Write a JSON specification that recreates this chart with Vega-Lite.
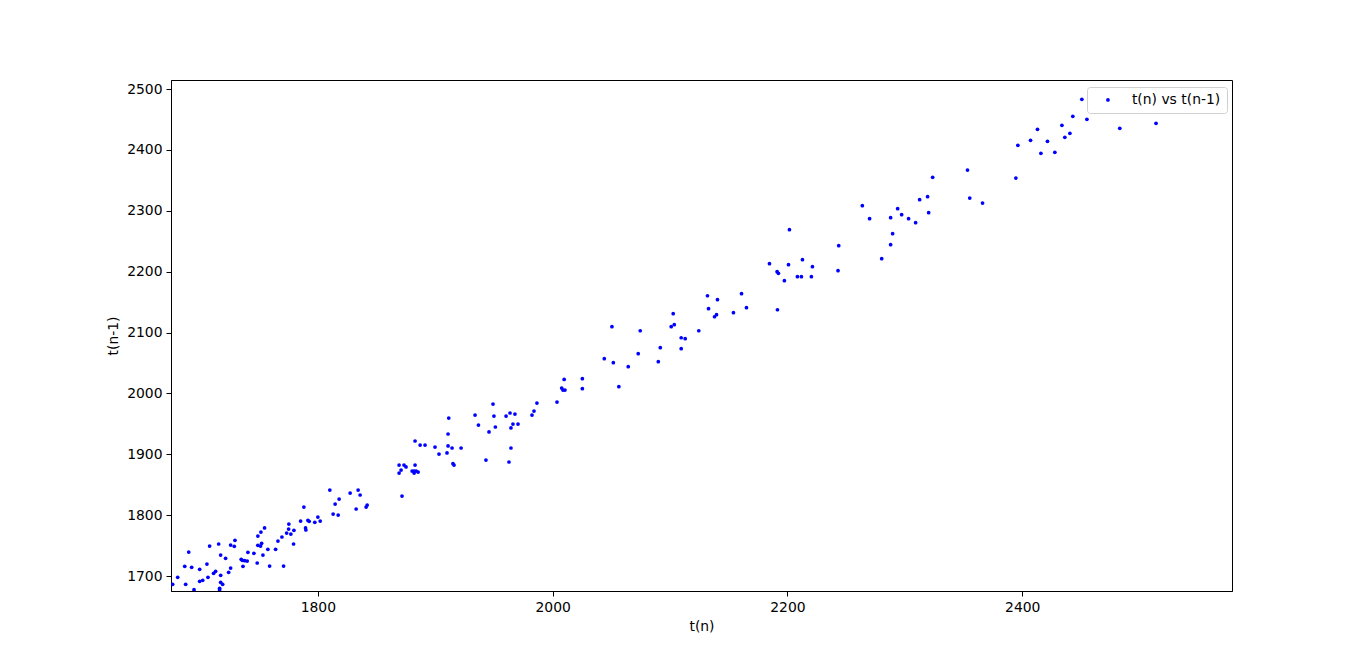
{
  "$schema": "https://vega.github.io/schema/vega-lite/v6.json",
  "width": 1061,
  "height": 511,
  "autosize": {"type": "none"},
  "padding": {"left": 171, "top": 80, "right": 137, "bottom": 73},
  "background": "white",
  "config": {
    "font": "DejaVu Sans",
    "view": {"stroke": "black", "strokeWidth": 1},
    "axis": {
      "grid": false,
      "domainColor": "black",
      "tickColor": "black",
      "labelColor": "black",
      "titleColor": "black",
      "labelFontSize": 13.9,
      "titleFontSize": 13.9,
      "titleFontWeight": "normal",
      "tickSize": 5,
      "labelPadding": 4
    },
    "legend": {
      "labelFontSize": 13.9,
      "labelColor": "black"
    }
  },
  "data": {
    "values": [
      {"t_n": 1788.1, "t_n_minus_1": 1813.3},
      {"t_n": 1785.3, "t_n_minus_1": 1790.3},
      {"t_n": 1791.5, "t_n_minus_1": 1791.5},
      {"t_n": 1792.6, "t_n_minus_1": 1789.9},
      {"t_n": 1797.4, "t_n_minus_1": 1788.2},
      {"t_n": 1800.0, "t_n_minus_1": 1796.9},
      {"t_n": 1802.0, "t_n_minus_1": 1790.3},
      {"t_n": 1789.5, "t_n_minus_1": 1778.9},
      {"t_n": 1789.8, "t_n_minus_1": 1775.6},
      {"t_n": 1775.3, "t_n_minus_1": 1785.4},
      {"t_n": 1775.1, "t_n_minus_1": 1777.2},
      {"t_n": 1773.4, "t_n_minus_1": 1770.6},
      {"t_n": 1777.0, "t_n_minus_1": 1769.0},
      {"t_n": 1779.6, "t_n_minus_1": 1775.1},
      {"t_n": 1779.3, "t_n_minus_1": 1752.6},
      {"t_n": 1769.4, "t_n_minus_1": 1764.1},
      {"t_n": 1766.0, "t_n_minus_1": 1757.5},
      {"t_n": 1764.0, "t_n_minus_1": 1743.9},
      {"t_n": 1770.8, "t_n_minus_1": 1716.4},
      {"t_n": 1754.6, "t_n_minus_1": 1778.9},
      {"t_n": 1751.5, "t_n_minus_1": 1772.3},
      {"t_n": 1748.9, "t_n_minus_1": 1765.7},
      {"t_n": 1748.9, "t_n_minus_1": 1750.4},
      {"t_n": 1752.1, "t_n_minus_1": 1753.7},
      {"t_n": 1751.2, "t_n_minus_1": 1749.3},
      {"t_n": 1757.4, "t_n_minus_1": 1743.9},
      {"t_n": 1753.2, "t_n_minus_1": 1734.5},
      {"t_n": 1745.5, "t_n_minus_1": 1737.3},
      {"t_n": 1748.3, "t_n_minus_1": 1721.4},
      {"t_n": 1758.9, "t_n_minus_1": 1716.4},
      {"t_n": 1740.4, "t_n_minus_1": 1738.9},
      {"t_n": 1739.8, "t_n_minus_1": 1724.6},
      {"t_n": 1737.6, "t_n_minus_1": 1725.1},
      {"t_n": 1734.7, "t_n_minus_1": 1727.4},
      {"t_n": 1735.6, "t_n_minus_1": 1725.8},
      {"t_n": 1736.2, "t_n_minus_1": 1715.9},
      {"t_n": 1729.4, "t_n_minus_1": 1758.6},
      {"t_n": 1725.7, "t_n_minus_1": 1750.9},
      {"t_n": 1728.8, "t_n_minus_1": 1748.8},
      {"t_n": 1721.4, "t_n_minus_1": 1729.1},
      {"t_n": 1717.2, "t_n_minus_1": 1734.5},
      {"t_n": 1715.5, "t_n_minus_1": 1752.6},
      {"t_n": 1707.8, "t_n_minus_1": 1749.3},
      {"t_n": 1725.7, "t_n_minus_1": 1713.1},
      {"t_n": 1724.0, "t_n_minus_1": 1706.1},
      {"t_n": 1717.2, "t_n_minus_1": 1701.1},
      {"t_n": 1712.9, "t_n_minus_1": 1707.7},
      {"t_n": 1711.2, "t_n_minus_1": 1704.4},
      {"t_n": 1705.5, "t_n_minus_1": 1719.7},
      {"t_n": 1699.3, "t_n_minus_1": 1711.0},
      {"t_n": 1706.4, "t_n_minus_1": 1697.9},
      {"t_n": 1701.9, "t_n_minus_1": 1692.9},
      {"t_n": 1699.3, "t_n_minus_1": 1691.3},
      {"t_n": 1717.2, "t_n_minus_1": 1689.7},
      {"t_n": 1718.9, "t_n_minus_1": 1686.4},
      {"t_n": 1716.3, "t_n_minus_1": 1679.8},
      {"t_n": 1716.3, "t_n_minus_1": 1677.5},
      {"t_n": 1694.5, "t_n_minus_1": 1677.5},
      {"t_n": 1690.0, "t_n_minus_1": 1739.4},
      {"t_n": 1686.6, "t_n_minus_1": 1715.9},
      {"t_n": 1692.5, "t_n_minus_1": 1714.3},
      {"t_n": 1680.6, "t_n_minus_1": 1697.9},
      {"t_n": 1687.4, "t_n_minus_1": 1686.4},
      {"t_n": 1676.3, "t_n_minus_1": 1686.4},
      {"t_n": 1936.8, "t_n_minus_1": 1948.0},
      {"t_n": 1910.9, "t_n_minus_1": 1933.3},
      {"t_n": 1882.8, "t_n_minus_1": 1921.8},
      {"t_n": 1887.1, "t_n_minus_1": 1915.2},
      {"t_n": 1891.3, "t_n_minus_1": 1915.2},
      {"t_n": 1899.8, "t_n_minus_1": 1911.9},
      {"t_n": 1910.9, "t_n_minus_1": 1913.6},
      {"t_n": 1914.3, "t_n_minus_1": 1910.3},
      {"t_n": 1922.0, "t_n_minus_1": 1910.3},
      {"t_n": 1903.2, "t_n_minus_1": 1900.4},
      {"t_n": 1910.0, "t_n_minus_1": 1902.1},
      {"t_n": 1915.1, "t_n_minus_1": 1884.5},
      {"t_n": 1916.0, "t_n_minus_1": 1882.3},
      {"t_n": 1869.2, "t_n_minus_1": 1882.3},
      {"t_n": 1873.4, "t_n_minus_1": 1882.3},
      {"t_n": 1875.1, "t_n_minus_1": 1879.1},
      {"t_n": 1882.8, "t_n_minus_1": 1882.3},
      {"t_n": 1870.9, "t_n_minus_1": 1874.1},
      {"t_n": 1869.2, "t_n_minus_1": 1869.2},
      {"t_n": 1880.3, "t_n_minus_1": 1872.5},
      {"t_n": 1882.0, "t_n_minus_1": 1872.5},
      {"t_n": 1883.7, "t_n_minus_1": 1872.5},
      {"t_n": 1882.0, "t_n_minus_1": 1869.2},
      {"t_n": 1885.4, "t_n_minus_1": 1870.8},
      {"t_n": 1871.7, "t_n_minus_1": 1831.4},
      {"t_n": 1810.2, "t_n_minus_1": 1841.3},
      {"t_n": 1827.5, "t_n_minus_1": 1836.3},
      {"t_n": 1834.3, "t_n_minus_1": 1841.3},
      {"t_n": 1836.0, "t_n_minus_1": 1833.1},
      {"t_n": 1818.1, "t_n_minus_1": 1826.5},
      {"t_n": 1814.7, "t_n_minus_1": 1818.3},
      {"t_n": 1842.0, "t_n_minus_1": 1816.6},
      {"t_n": 1841.1, "t_n_minus_1": 1813.3},
      {"t_n": 1832.6, "t_n_minus_1": 1810.1},
      {"t_n": 1813.0, "t_n_minus_1": 1801.8},
      {"t_n": 1817.3, "t_n_minus_1": 1800.2},
      {"t_n": 1911.5, "t_n_minus_1": 1959.5},
      {"t_n": 2007.7, "t_n_minus_1": 2008.8},
      {"t_n": 2008.8, "t_n_minus_1": 2005.5},
      {"t_n": 2010.5, "t_n_minus_1": 2005.5},
      {"t_n": 2009.8, "t_n_minus_1": 2023.0},
      {"t_n": 2003.7, "t_n_minus_1": 1985.8},
      {"t_n": 1986.6, "t_n_minus_1": 1984.2},
      {"t_n": 1984.1, "t_n_minus_1": 1971.0},
      {"t_n": 1982.4, "t_n_minus_1": 1964.5},
      {"t_n": 1949.2, "t_n_minus_1": 1982.5},
      {"t_n": 1933.9, "t_n_minus_1": 1964.5},
      {"t_n": 1950.0, "t_n_minus_1": 1962.8},
      {"t_n": 1960.3, "t_n_minus_1": 1962.8},
      {"t_n": 1963.7, "t_n_minus_1": 1967.8},
      {"t_n": 1967.9, "t_n_minus_1": 1966.1},
      {"t_n": 1951.2, "t_n_minus_1": 1944.8},
      {"t_n": 1945.8, "t_n_minus_1": 1936.6},
      {"t_n": 1966.2, "t_n_minus_1": 1949.7},
      {"t_n": 1970.5, "t_n_minus_1": 1949.7},
      {"t_n": 1964.5, "t_n_minus_1": 1943.2},
      {"t_n": 1964.5, "t_n_minus_1": 1910.3},
      {"t_n": 1943.2, "t_n_minus_1": 1890.5},
      {"t_n": 1962.8, "t_n_minus_1": 1887.3},
      {"t_n": 2102.7, "t_n_minus_1": 2130.9},
      {"t_n": 2101.0, "t_n_minus_1": 2109.5},
      {"t_n": 2103.6, "t_n_minus_1": 2112.8},
      {"t_n": 2050.5, "t_n_minus_1": 2109.5},
      {"t_n": 2074.6, "t_n_minus_1": 2102.9},
      {"t_n": 2109.5, "t_n_minus_1": 2091.4},
      {"t_n": 2112.9, "t_n_minus_1": 2089.8},
      {"t_n": 2124.5, "t_n_minus_1": 2102.9},
      {"t_n": 2091.7, "t_n_minus_1": 2075.0},
      {"t_n": 2109.5, "t_n_minus_1": 2073.4},
      {"t_n": 2072.9, "t_n_minus_1": 2065.2},
      {"t_n": 2044.0, "t_n_minus_1": 2057.0},
      {"t_n": 2051.7, "t_n_minus_1": 2050.4},
      {"t_n": 2064.4, "t_n_minus_1": 2043.8},
      {"t_n": 2090.0, "t_n_minus_1": 2052.0},
      {"t_n": 2025.3, "t_n_minus_1": 2024.1},
      {"t_n": 2025.3, "t_n_minus_1": 2007.7},
      {"t_n": 2056.4, "t_n_minus_1": 2011.0},
      {"t_n": 2201.7, "t_n_minus_1": 2268.9},
      {"t_n": 2243.7, "t_n_minus_1": 2242.6},
      {"t_n": 2184.7, "t_n_minus_1": 2213.0},
      {"t_n": 2200.9, "t_n_minus_1": 2211.4},
      {"t_n": 2212.8, "t_n_minus_1": 2219.6},
      {"t_n": 2221.3, "t_n_minus_1": 2208.1},
      {"t_n": 2191.2, "t_n_minus_1": 2199.9},
      {"t_n": 2192.3, "t_n_minus_1": 2197.3},
      {"t_n": 2197.4, "t_n_minus_1": 2185.1},
      {"t_n": 2208.5, "t_n_minus_1": 2191.7},
      {"t_n": 2211.9, "t_n_minus_1": 2191.7},
      {"t_n": 2220.4, "t_n_minus_1": 2191.7},
      {"t_n": 2243.1, "t_n_minus_1": 2201.5},
      {"t_n": 2131.9, "t_n_minus_1": 2160.4},
      {"t_n": 2140.4, "t_n_minus_1": 2153.9},
      {"t_n": 2160.9, "t_n_minus_1": 2163.7},
      {"t_n": 2132.8, "t_n_minus_1": 2139.1},
      {"t_n": 2165.1, "t_n_minus_1": 2140.7},
      {"t_n": 2154.0, "t_n_minus_1": 2132.5},
      {"t_n": 2137.9, "t_n_minus_1": 2125.9},
      {"t_n": 2139.6, "t_n_minus_1": 2129.2},
      {"t_n": 2191.5, "t_n_minus_1": 2137.4},
      {"t_n": 2323.7, "t_n_minus_1": 2354.9},
      {"t_n": 2312.6, "t_n_minus_1": 2318.2},
      {"t_n": 2319.4, "t_n_minus_1": 2323.1},
      {"t_n": 2320.3, "t_n_minus_1": 2296.8},
      {"t_n": 2263.8, "t_n_minus_1": 2308.3},
      {"t_n": 2270.0, "t_n_minus_1": 2287.0},
      {"t_n": 2287.9, "t_n_minus_1": 2288.6},
      {"t_n": 2293.9, "t_n_minus_1": 2303.4},
      {"t_n": 2297.3, "t_n_minus_1": 2293.5},
      {"t_n": 2303.2, "t_n_minus_1": 2287.0},
      {"t_n": 2309.2, "t_n_minus_1": 2280.4},
      {"t_n": 2289.6, "t_n_minus_1": 2262.3},
      {"t_n": 2287.9, "t_n_minus_1": 2244.2},
      {"t_n": 2280.3, "t_n_minus_1": 2221.2},
      {"t_n": 2450.8, "t_n_minus_1": 2483.1},
      {"t_n": 2443.1, "t_n_minus_1": 2455.2},
      {"t_n": 2455.1, "t_n_minus_1": 2450.2},
      {"t_n": 2433.8, "t_n_minus_1": 2440.4},
      {"t_n": 2413.0, "t_n_minus_1": 2433.8},
      {"t_n": 2440.6, "t_n_minus_1": 2427.2},
      {"t_n": 2436.3, "t_n_minus_1": 2420.7},
      {"t_n": 2407.1, "t_n_minus_1": 2415.7},
      {"t_n": 2421.5, "t_n_minus_1": 2414.1},
      {"t_n": 2396.3, "t_n_minus_1": 2407.5},
      {"t_n": 2415.9, "t_n_minus_1": 2394.4},
      {"t_n": 2427.8, "t_n_minus_1": 2396.0},
      {"t_n": 2483.1, "t_n_minus_1": 2435.5},
      {"t_n": 2514.0, "t_n_minus_1": 2443.7},
      {"t_n": 2353.4, "t_n_minus_1": 2366.8},
      {"t_n": 2394.6, "t_n_minus_1": 2353.7},
      {"t_n": 2355.3, "t_n_minus_1": 2320.9},
      {"t_n": 2366.2, "t_n_minus_1": 2312.6}
    ]
  },
  "mark": {"type": "point", "filled": true, "size": 14, "opacity": 1, "clip": true, "shape": "circle"},
  "encoding": {
    "x": {
      "field": "t_n",
      "type": "quantitative",
      "title": "t(n)",
      "scale": {"domain": [1674.9, 2578.7], "nice": false, "zero": false},
      "axis": {"values": [1800, 2000, 2200, 2400], "format": "d", "titlePadding": 6}
    },
    "y": {
      "field": "t_n_minus_1",
      "type": "quantitative",
      "title": "t(n-1)",
      "scale": {"domain": [1675.4, 2514.8], "nice": false, "zero": false},
      "axis": {"values": [1700, 1800, 1900, 2000, 2100, 2200, 2300, 2400, 2500], "format": "d", "titlePadding": 6}
    },
    "color": {
      "datum": "t(n) vs t(n-1)",
      "scale": {"range": ["#0000ff"]},
      "legend": {
        "title": null,
        "orient": "none",
        "legendX": 916,
        "legendY": 7,
        "fillColor": "white",
        "strokeColor": "#d0d0d0",
        "cornerRadius": 3,
        "padding": 6,
        "symbolType": "circle",
        "symbolSize": 14,
        "symbolOffset": 8,
        "labelOffset": 17,
        "labelFontSize": 13.9
      }
    }
  }
}
